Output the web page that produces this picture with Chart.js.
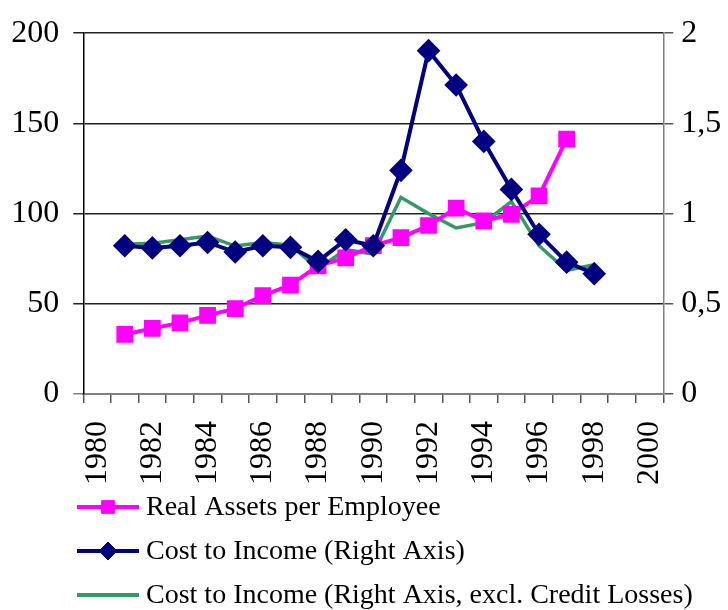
<!DOCTYPE html>
<html lang="en">
<head>
  <meta charset="UTF-8" />
  <title>Real Assets per Employee and Cost to Income</title>
  <script src="https://cdn.jsdelivr.net/npm/chart.js@4.4.0/dist/chart.umd.min.js"></script>
  <style>
    body { margin: 0; background: #fff; }
    canvas { display: block; }
  </style>
</head>
<body>
  <canvas id="chart" width="728" height="610"></canvas>

  <script>
    // ------------
    // DATA
    // ------------
    const years = [
      "1980", "1981", "1982", "1983", "1984", "1985", "1986", "1987", "1988", "1989", "1990",
      "1991", "1992", "1993", "1994", "1995", "1996", "1997", "1998", "1999", "2000"
    ];
    // left axis, 1981-1997
    const realAssetsPerEmployee = [
      null, 33, 36.4, 39.4, 43.6, 47.3, 54.5, 60.4, 71, 75.5, 82.2,
      86.7, 93.4, 103, 96, 99.6, 109.8, 141.3, null, null, null
    ];
    // right axis, 1981-1998
    const costToIncome = [
      null, 0.822, 0.81, 0.822, 0.84, 0.787, 0.822, 0.813, 0.735, 0.855, 0.822,
      1.24, 1.903, 1.713, 1.40, 1.134, 0.885, 0.731, 0.667, null, null
    ];
    const costToIncomeExclLosses = [
      null, 0.83, 0.836, 0.855, 0.876, 0.82, 0.84, 0.825, 0.694, 0.80, 0.776,
      1.09, 1.0, 0.92, 0.95, 1.067, 0.822, 0.686, 0.716, null, null
    ];
    const leftTicks = [0, 50, 100, 150, 200];
    const rightTicks = [0, 0.5, 1, 1.5, 2];

    const seriesNames = [
      "Real Assets per Employee",
      "Cost to Income (Right Axis)",
      "Cost to Income (Right Axis, excl. Credit Losses)"
    ];

    const FONT = "'Liberation Serif', 'Times New Roman', serif";

    // -------------------------------
    // LEGEND (drawn on the canvas, one row per series)
    // -------------------------------
    const rowLegend = {
      id: "rowLegend",
      afterDraw(chart) {
        const ctx = chart.ctx;
        ctx.save();
        chart.data.datasets.forEach((ds, i) => {
          const y = 507 + i * 44;
          ctx.strokeStyle = ds.borderColor;
          ctx.lineWidth = 4;
          ctx.beginPath();
          ctx.moveTo(77, y);
          ctx.lineTo(139, y);
          ctx.stroke();
          if (ds.pointRadius > 0) {
            ctx.fillStyle = ds.pointBackgroundColor;
            ctx.strokeStyle = ds.pointBorderColor;
            ctx.lineWidth = 1;
            Chart.helpers.drawPoint(ctx, {
              pointStyle: ds.pointStyle,
              radius: ds.pointRadius,
              rotation: 0,
              borderWidth: 1
            }, 108, y);
          }
          ctx.fillStyle = "#000";
          ctx.font = "28px " + FONT;
          ctx.textBaseline = "middle";
          ctx.textAlign = "left";
          ctx.fillText(ds.label, 146, y + 1);
        });
        ctx.restore();
      }
    };

    // -------------------------------
    // CHART
    // -------------------------------
    const ctx = document.getElementById("chart").getContext("2d");
    new Chart(ctx, {
      type: "line",
      data: {
        labels: years,
        datasets: [
          {
            label: seriesNames[0],
            data: realAssetsPerEmployee,
            yAxisID: "y",
            borderColor: "#FF00FF",
            backgroundColor: "#FF00FF",
            pointBackgroundColor: "#FF00FF",
            pointBorderColor: "#FF00FF",
            pointStyle: "rect",
            pointRadius: 9,
            borderWidth: 4,
            tension: 0,
            order: 1
          },
          {
            label: seriesNames[1],
            data: costToIncome,
            yAxisID: "y1",
            borderColor: "#000080",
            backgroundColor: "#000080",
            pointBackgroundColor: "#000080",
            pointBorderColor: "#000080",
            pointStyle: "rectRot",
            pointRadius: 9,
            borderWidth: 4,
            tension: 0,
            order: 0
          },
          {
            label: seriesNames[2],
            data: costToIncomeExclLosses,
            yAxisID: "y1",
            borderColor: "#339966",
            backgroundColor: "#339966",
            pointRadius: 0,
            borderWidth: 3.5,
            tension: 0,
            order: 2
          }
        ]
      },
      options: {
        responsive: false,
        animation: false,
        layout: { padding: { top: 27, left: 0, right: 0, bottom: 0 } },
        plugins: {
          legend: { display: false },
          tooltip: { enabled: false }
        },
        scales: {
          x: {
            type: "category",
            offset: true,
            afterFit(scale) { scale.height = 216; },
            grid: {
              offset: true,
              drawOnChartArea: false,
              drawTicks: true,
              tickLength: 9,
              color: "#555",
              lineWidth: 1.5
            },
            border: { color: "#808080", width: 2 },
            ticks: {
              autoSkip: false,
              minRotation: 90,
              maxRotation: 90,
              padding: 18,
              color: "#000",
              font: { family: FONT, size: 32 },
              callback(val) {
                const y = this.getLabelForValue(val);
                return Number(y) % 2 === 0 ? y : "";
              }
            }
          },
          y: {
            position: "left",
            min: 0,
            max: 200,
            afterFit(scale) { scale.width = 83.3; },
            afterBuildTicks(scale) {
              scale.ticks = leftTicks.map(v => ({ value: v }));
            },
            grid: {
              color: (c) => (c.tick && c.tick.value === 0 ? "#808080" : "#222"),
              lineWidth: 1.5,
              tickLength: 10
            },
            border: { color: "#000", width: 1.5 },
            ticks: {
              padding: 14,
              color: "#000",
              font: { family: FONT, size: 32 }
            }
          },
          y1: {
            position: "right",
            min: 0,
            max: 2,
            afterFit(scale) { scale.width = 64.7; },
            afterBuildTicks(scale) {
              scale.ticks = rightTicks.map(v => ({ value: v }));
            },
            grid: {
              drawOnChartArea: false,
              color: "#555",
              lineWidth: 1.5,
              tickLength: 10
            },
            border: { color: "#808080", width: 1.5 },
            ticks: {
              padding: 8,
              color: "#000",
              font: { family: FONT, size: 32 },
              callback: (v) => String(v).replace(".", ",")
            }
          }
        }
      },
      plugins: [rowLegend]
    });
  </script>
</body>
</html>
